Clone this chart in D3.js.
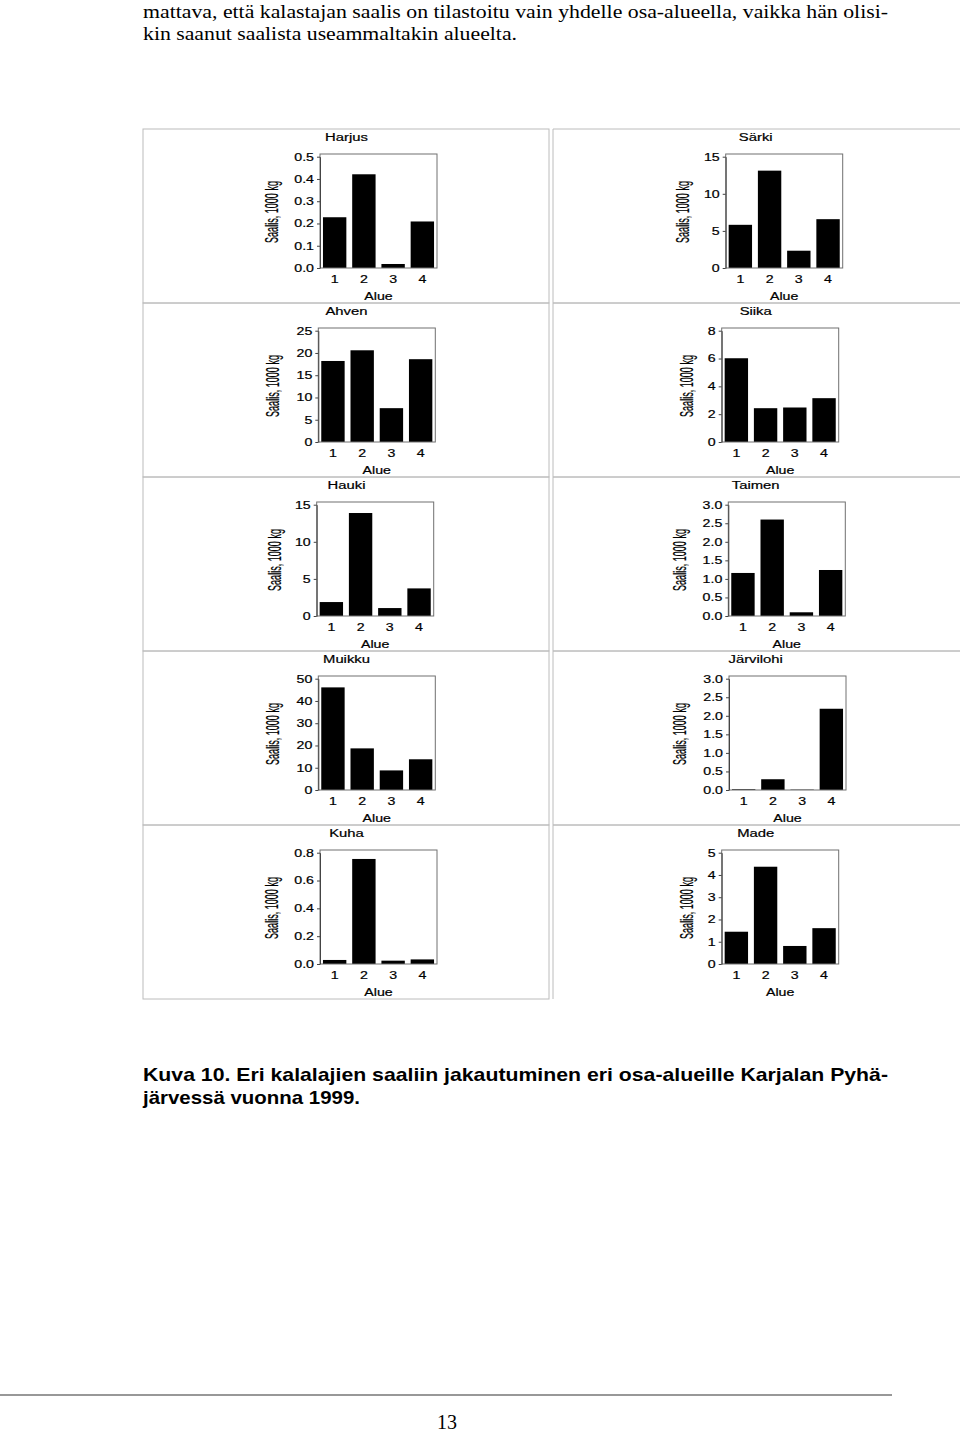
<!DOCTYPE html>
<html><head><meta charset="utf-8">
<script src="https://cdn.jsdelivr.net/npm/d3@7"></script>
<style>body{margin:0;background:#fff}</style>
</head><body>
<svg id="c" width="960" height="1433" xmlns="http://www.w3.org/2000/svg"></svg>
<script>
// ---- data ----
const alue = [1, 2, 3, 4];
const harjus = [0.228, 0.421, 0.018, 0.209];
const sarki = [5.82, 13.12, 2.33, 6.58];
const ahven = [18.2, 20.6, 7.6, 18.6];
const siika = [6.02, 2.43, 2.48, 3.15];
const hauki = [1.88, 13.88, 1.07, 3.72];
const taimen = [1.16, 2.60, 0.10, 1.24];
const muikku = [46.1, 18.7, 8.8, 13.8];
const jarvilohi = [0.02, 0.29, 0.01, 2.19];
const kuha = [0.029, 0.755, 0.024, 0.033];
const made = [1.45, 4.37, 0.81, 1.61];

const ticksHarjus = [0, 0.1, 0.2, 0.3, 0.4, 0.5];
const ticksSarki = [0, 5, 10, 15];
const ticksAhven = [0, 5, 10, 15, 20, 25];
const ticksSiika = [0, 2, 4, 6, 8];
const ticksHauki = [0, 5, 10, 15];
const ticksTaimen = [0, 0.5, 1.0, 1.5, 2.0, 2.5, 3.0];
const ticksMuikku = [0, 10, 20, 30, 40, 50];
const ticksJarvilohi = [0, 0.5, 1.0, 1.5, 2.0, 2.5, 3.0];
const ticksKuha = [0, 0.2, 0.4, 0.6, 0.8];
const ticksMade = [0, 1, 2, 3, 4, 5];

const yLabel = "Saalis, 1000 kg";
const xLabel = "Alue";

const panels = [
  {name: "Harjus", values: harjus, ticks: ticksHarjus, fmt: ".1f"},
  {name: "Ahven", values: ahven, ticks: ticksAhven, fmt: "d"},
  {name: "Hauki", values: hauki, ticks: ticksHauki, fmt: "d"},
  {name: "Muikku", values: muikku, ticks: ticksMuikku, fmt: "d"},
  {name: "Kuha", values: kuha, ticks: ticksKuha, fmt: ".1f"},
  {name: "Särki", values: sarki, ticks: ticksSarki, fmt: "d"},
  {name: "Siika", values: siika, ticks: ticksSiika, fmt: "d"},
  {name: "Taimen", values: taimen, ticks: ticksTaimen, fmt: ".1f"},
  {name: "Järvilohi", values: jarvilohi, ticks: ticksJarvilohi, fmt: ".1f"},
  {name: "Made", values: made, ticks: ticksMade, fmt: "d"}
];

// ---- layout (positions only) ----
const layout = [
  {col: 0, row: 0, fx: 320, lx: 272},
  {col: 0, row: 1, fx: 318.3, lx: 273.3},
  {col: 0, row: 2, fx: 316.7, lx: 275},
  {col: 0, row: 3, fx: 318.3, lx: 273.3},
  {col: 0, row: 4, fx: 320, lx: 271.7},
  {col: 1, row: 0, fx: 725.7, lx: 683.3},
  {col: 1, row: 1, fx: 721.7, lx: 686.7},
  {col: 1, row: 2, fx: 728.3, lx: 680},
  {col: 1, row: 3, fx: 729, lx: 680},
  {col: 1, row: 4, fx: 721.7, lx: 686.7}
];
const titleX = [346.5, 755.7];
const SX = 1.35;
const FONT = "'Liberation Sans', Arial, Helvetica, sans-serif";

const svg = d3.select("#c");

// top body text
const serif = "'Liberation Serif', 'Times New Roman', serif";
svg.append("text").attr("x", 143).attr("y", 18).attr("font-family", serif).attr("font-size", 19)
  .attr("textLength", 745).attr("lengthAdjust", "spacingAndGlyphs")
  .text("mattava, että kalastajan saalis on tilastoitu vain yhdelle osa-alueella, vaikka hän olisi-");
svg.append("text").attr("x", 143).attr("y", 40).attr("font-family", serif).attr("font-size", 19)
  .attr("textLength", 374).attr("lengthAdjust", "spacingAndGlyphs")
  .text("kin saanut saalista useammaltakin alueelta.");

// panel boxes
const boxG = svg.append("g").attr("fill", "none").attr("stroke", "#bcbcbc").attr("stroke-width", 1);
for (let r = 0; r < 5; r++) {
  const t = 129 + r * 174;
  boxG.append("rect").attr("x", 143).attr("y", t).attr("width", 406).attr("height", 174);
  boxG.append("path").attr("d", `M975,${t}H553V${t + 174}` + (r < 4 ? `H975` : ``));
}

panels.forEach((p, i) => {
  const L = layout[i];
  const rowTop = 129 + L.row * 174;
  const fx = L.fx, fw = 117;
  const fTop = rowTop + 25, fBot = rowTop + 139;
  const g = svg.append("g").attr("font-family", FONT);
  const max = p.ticks[p.ticks.length - 1];
  const y = d3.scaleLinear().domain([0, max]).range([fBot, rowTop + 27.7]);
  const x = d3.scaleBand().domain(alue).range([fx + 1.5, fx + fw - 1.5]).paddingInner(0.2).paddingOuter(0.05);

  // bars
  g.selectAll("rect.bar").data(p.values).join("rect").attr("class", "bar")
    .attr("x", (d, j) => x(alue[j])).attr("width", x.bandwidth())
    .attr("y", d => y(d)).attr("height", d => fBot - y(d))
    .attr("fill", "#000");

  // frame
  g.append("rect").attr("x", fx).attr("y", fTop).attr("width", fw).attr("height", fBot - fTop)
    .attr("fill", "none").attr("stroke", "#707070").attr("stroke-width", 1);

  // y axis
  const ya = g.append("g").attr("transform", `translate(${fx},0)`)
    .call(d3.axisLeft(y).tickValues(p.ticks).tickFormat(d3.format(p.fmt)).tickSize(3).tickPadding(3).tickSizeOuter(0));
  ya.attr("font-family", FONT).attr("font-size", 10.5);
  ya.select(".domain").attr("stroke", "#444");
  ya.selectAll(".tick line").attr("stroke", "#444");
  ya.selectAll(".tick text").attr("x", 0).attr("fill", "#000")
    .attr("stroke", "#000").attr("stroke-width", 0.2)
    .attr("transform", `translate(-6,0) scale(${SX},1)`);

  // x axis
  const xa = g.append("g").attr("transform", `translate(0,${fBot})`)
    .call(d3.axisBottom(x).tickSize(0).tickPadding(8));
  xa.attr("font-family", FONT).attr("font-size", 10.5);
  xa.select(".domain").remove();
  xa.selectAll(".tick text").attr("y", 0).attr("fill", "#000")
    .attr("stroke", "#000").attr("stroke-width", 0.2)
    .attr("transform", `translate(0,8) scale(${SX},1)`);

  // title
  g.append("text").attr("text-anchor", "middle").attr("font-size", 11)
    .attr("stroke", "#000").attr("stroke-width", 0.2)
    .attr("transform", `translate(${titleX[L.col]},${rowTop + 12}) scale(${SX},1)`)
    .text(p.name);

  // x label
  g.append("text").attr("text-anchor", "middle").attr("font-size", 10.5)
    .attr("stroke", "#000").attr("stroke-width", 0.2)
    .attr("transform", `translate(${fx + fw / 2},${fBot + 32}) scale(${SX},1)`)
    .text(xLabel);

  // y label
  g.append("text").attr("text-anchor", "middle").attr("font-size", 13).attr("dy", "0.35em")
    .attr("textLength", 62).attr("lengthAdjust", "spacingAndGlyphs")
    .attr("stroke", "#000").attr("stroke-width", 0.15)
    .attr("transform", `translate(${L.lx},${(fTop + fBot) / 2 + 1}) scale(${SX},1) rotate(-90)`)
    .text(yLabel);
});

// caption
svg.append("text").attr("x", 143).attr("y", 1081).attr("font-family", FONT).attr("font-weight", "bold")
  .attr("font-size", 19).attr("textLength", 745).attr("lengthAdjust", "spacingAndGlyphs")
  .text("Kuva 10. Eri kalalajien saaliin jakautuminen eri osa-alueille Karjalan Pyhä-");
svg.append("text").attr("x", 143).attr("y", 1104).attr("font-family", FONT).attr("font-weight", "bold")
  .attr("font-size", 19).attr("textLength", 217).attr("lengthAdjust", "spacingAndGlyphs")
  .text("järvessä vuonna 1999.");

// footer
svg.append("line").attr("x1", 0).attr("x2", 892).attr("y1", 1395).attr("y2", 1395)
  .attr("stroke", "#333").attr("stroke-width", 1.2);
svg.append("text").attr("x", 447).attr("y", 1429).attr("text-anchor", "middle")
  .attr("font-family", serif).attr("font-size", 20).text("13");
</script>
</body></html>
